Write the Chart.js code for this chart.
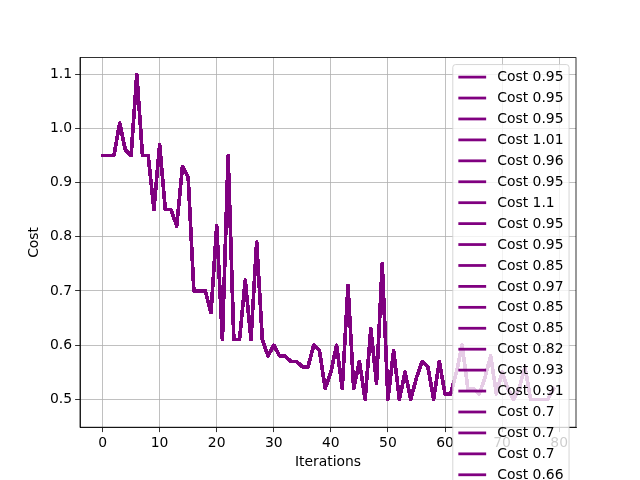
<!DOCTYPE html>
<html>
<head>
<meta charset="utf-8">
<script src="https://cdn.jsdelivr.net/npm/chart.js@4/dist/chart.umd.min.js"></script>
<style>
  html, body { margin: 0; padding: 0; background: #fff; overflow: hidden; }
  #costChart { display: block; }
</style>
</head>
<body>
<canvas id="costChart" width="640" height="480"></canvas>
<script>
// Coste por iteración
const costs = [
    0.95, 0.95, 0.95, 1.01, 0.96, 0.95, 1.1, 0.95, 0.95, 0.85,
    0.97, 0.85, 0.85, 0.82, 0.93, 0.91, 0.7, 0.7, 0.7, 0.66,
    0.82, 0.61, 0.95, 0.61, 0.61, 0.72, 0.61, 0.79, 0.61, 0.58,
    0.6, 0.58, 0.58, 0.57, 0.57, 0.56, 0.56, 0.6, 0.59, 0.52,
    0.55, 0.6, 0.52, 0.71, 0.52, 0.57, 0.5, 0.63, 0.53, 0.75,
    0.5, 0.59, 0.5, 0.55, 0.5, 0.54, 0.57, 0.56, 0.5, 0.57,
    0.51, 0.51, 0.55, 0.6, 0.52, 0.52, 0.51, 0.54, 0.58, 0.51,
    0.55, 0.52, 0.5, 0.52, 0.56, 0.5, 0.5, 0.5, 0.5, 0.52
];
const iterations = costs.map((c, i) => i);

// Marcas de los ejes
const xTicks = [0, 10, 20, 30, 40, 50, 60, 70, 80];
const yTicks = [0.5, 0.6, 0.7, 0.8, 0.9, 1.0, 1.1];

const lineColor = 'purple';
const fontSize = 13.9;

Chart.defaults.font.family = 'DejaVu Sans';
Chart.defaults.font.size = fontSize;
Chart.defaults.color = 'black';

// Una serie por iteración, cada una con la curva completa (como el original)
const points = iterations.map((x, i) => ({ x: x, y: costs[i] }));
const datasets = costs.map(c => ({
    label: 'Cost ' + c,
    data: points,
    borderColor: lineColor,
    borderWidth: 2.78,
    borderJoinStyle: 'round',
    borderCapStyle: 'square',
    pointRadius: 0,
    fill: false,
    tension: 0
}));

// Marco superior/derecho y leyenda estilo matplotlib
const frameAndLegend = {
    id: 'frameAndLegend',
    afterDraw(chart) {
        const ctx = chart.ctx;
        const a = chart.chartArea;
        ctx.save();
        ctx.strokeStyle = 'black';
        ctx.lineWidth = 0.8;
        ctx.strokeRect(a.left, a.top, a.right - a.left, a.bottom - a.top);

        ctx.font = fontSize + 'px "DejaVu Sans"';
        const labels = chart.data.datasets.map(d => d.label);
        const textW = Math.max(...labels.map(l => ctx.measureText(l).width));
        const pad = 0.4 * fontSize;
        const handleLen = 2 * fontSize;
        const handlePad = 0.8 * fontSize;
        const rowH = 20.93;
        const boxW = pad + handleLen + handlePad + textW + pad;
        const boxRight = a.right - 0.5 * fontSize;
        const boxLeft = boxRight - boxW;
        const boxTop = a.top + 0.5 * fontSize;
        const boxH = 2 * pad + labels.length * rowH;

        ctx.beginPath();
        if (ctx.roundRect) {
            ctx.roundRect(boxLeft, boxTop, boxW, boxH, 2.8);
        } else {
            ctx.rect(boxLeft, boxTop, boxW, boxH);
        }
        ctx.fillStyle = 'rgba(255,255,255,0.8)';
        ctx.fill();
        ctx.strokeStyle = 'rgba(204,204,204,0.8)';
        ctx.lineWidth = 1;
        ctx.stroke();

        ctx.textBaseline = 'middle';
        ctx.textAlign = 'left';
        labels.forEach((label, k) => {
            const y = boxTop + pad + 7 + k * rowH;
            if (y > chart.height + rowH) return;
            ctx.beginPath();
            ctx.moveTo(boxLeft + pad, y);
            ctx.lineTo(boxLeft + pad + handleLen, y);
            ctx.strokeStyle = chart.data.datasets[k].borderColor;
            ctx.lineWidth = 2.78;
            ctx.stroke();
            ctx.fillStyle = 'black';
            ctx.fillText(label, boxLeft + pad + handleLen + handlePad, y + 0.5);
        });
        ctx.restore();
    }
};

const ctx = document.getElementById('costChart').getContext('2d');
window.costChart = new Chart(ctx, {
    type: 'line',
    data: { datasets: datasets },
    plugins: [frameAndLegend],
    options: {
        responsive: false,
        animation: false,
        events: [],
        layout: { padding: { top: 57.6, right: 64, left: 0, bottom: 0 } },
        plugins: {
            legend: { display: false },
            tooltip: { enabled: false }
        },
        scales: {
            x: {
                type: 'linear',
                min: -3.95,
                max: 82.95,
                afterBuildTicks: scale => { scale.ticks = xTicks.map(v => ({ value: v })); },
                afterFit: scale => { scale.height = 52.8; },
                ticks: {
                    autoSkip: false,
                    maxRotation: 0,
                    padding: 3,
                    callback: v => String(v)
                },
                grid: {
                    color: '#b0b0b0',
                    lineWidth: 0.8,
                    tickLength: 4.9,
                    tickColor: 'black',
                    tickWidth: 0.8
                },
                border: { display: true, color: 'black', width: 0.8 },
                title: {
                    display: true,
                    text: 'Iterations',
                    padding: { top: 0, bottom: 9 }
                }
            },
            y: {
                type: 'linear',
                min: 0.4485,
                max: 1.1308,
                afterBuildTicks: scale => { scale.ticks = yTicks.map(v => ({ value: v })); },
                afterFit: scale => { scale.width = 80; },
                ticks: {
                    padding: 3,
                    callback: v => v.toFixed(1)
                },
                grid: {
                    color: '#b0b0b0',
                    lineWidth: 0.8,
                    tickLength: 4.9,
                    tickColor: 'black',
                    tickWidth: 0.8
                },
                border: { display: true, color: 'black', width: 0.8 },
                title: {
                    display: true,
                    text: 'Cost',
                    padding: { top: 26, bottom: 0 }
                }
            }
        }
    }
});
</script>
</body>
</html>
